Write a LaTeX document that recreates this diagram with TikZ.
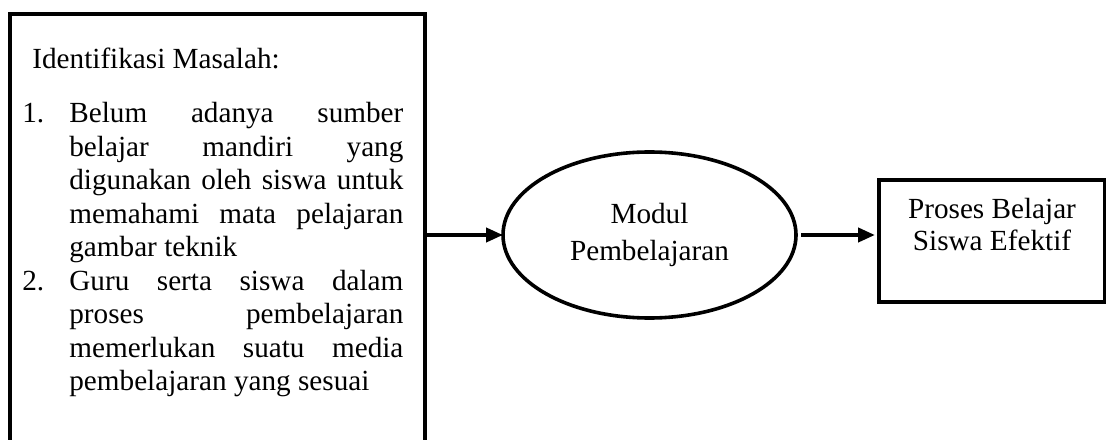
\documentclass[tikz,border=0pt]{standalone}
\usepackage{fontspec}
\setmainfont{Liberation Serif}
\usepackage{tikz}
\usetikzlibrary{arrows.meta}
\usetikzlibrary{positioning,shapes.geometric}
\tikzset{
    kotak/.style={
        draw,
        rectangle,
        line width=2pt,
        outer sep=0pt,
        inner sep=0pt
    },
    modulnode/.style={
        draw,
        ellipse,
        line width=1.8pt,
        outer sep=0pt,
        inner sep=0pt,
        minimum width=146.5pt,
        minimum height=83pt,
        align=center,
        font=\fontsize{14.6pt}{18.5pt}\selectfont
    },
    teks/.style={
        inner sep=0pt,
        font=\fontsize{14.6pt}{16.75pt}\selectfont
    },
    panah/.style={
        draw,
        -{Triangle[length=8.5pt, width=7pt]},
        line width=2pt
    }
}

\begin{document}
\begin{tikzpicture}[x=1pt, y=1pt]
    \useasboundingbox (0,0) rectangle (553,219.5);

    % Boxes
    \node[kotak, anchor=north west, minimum width=207.5pt, minimum height=240pt] (masalah) at (4.75,212.25) {};
    \node[modulnode] (modul) at (324.75,102) {Modul\\Pembelajaran};
    \node[kotak, anchor=north west, minimum width=113pt, minimum height=60.5pt] (hasil) at (439.5,129.25) {};

    % Texts in the boxes
    \node[teks, anchor=north west, text width=190.5pt, align=justify] (daftar) at (11,195.5) {%
        \hyphenpenalty=10000
        \hspace*{5pt}Identifikasi Masalah:\par\vspace{10.25pt}
        \hangindent=23.5pt\hangafter=1\noindent\makebox[23.5pt][l]{1.}Belum adanya sumber\linebreak
        belajar mandiri yang\linebreak digunakan oleh siswa untuk\linebreak
        memahami mata pelajaran\linebreak gambar teknik\par
        \hangindent=23.5pt\hangafter=1\noindent\makebox[23.5pt][l]{2.}Guru serta siswa dalam\linebreak
        proses pembelajaran\linebreak memerlukan suatu media\linebreak
        pembelajaran yang sesuai\par};
    \node[teks, align=center, anchor=north, below=8.75pt of hasil.north, font=\fontsize{14.6pt}{16pt}\selectfont] (hasilteks) {Proses Belajar\\Siswa Efektif};

    % Arrows
    \draw[panah] (modul.west -| masalah.east) -- (modul.west);
    \draw[panah, shorten <=2.5pt, shorten >=2pt] (modul.east) -- (hasil.west |- modul.east);
\end{tikzpicture}
\end{document}
